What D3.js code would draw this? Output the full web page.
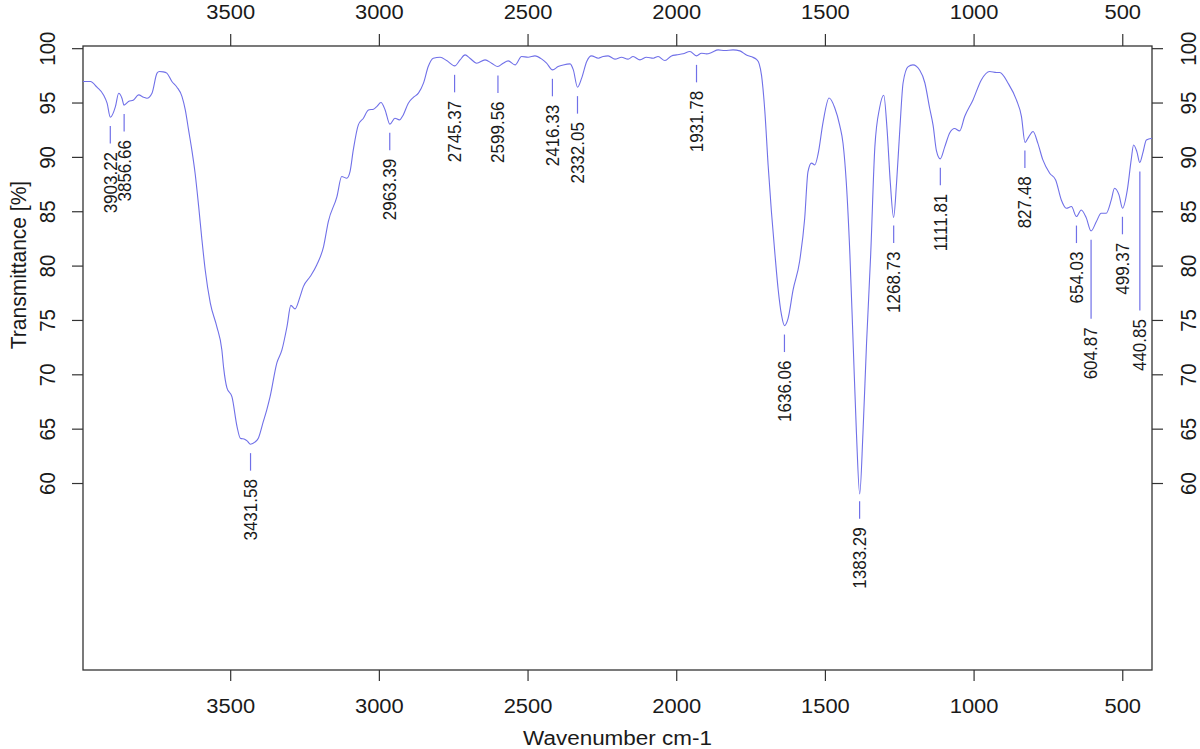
<!DOCTYPE html>
<html>
<head>
<meta charset="utf-8">
<script src="https://cdn.jsdelivr.net/npm/d3@7"></script>
<style>
  body { margin: 0; background: #fff; }
  svg { display: block; font-family: "Liberation Sans", Arial, sans-serif; }
</style>
</head>
<body>
<div id="chart"></div>
<script>
// IR spectrum (wavenumber in cm-1, descending)
var wavenumber = [
  3995, 3970, 3948, 3926, 3914, 3903, 3886, 3875, 3864, 3857,
  3842, 3825, 3808, 3791, 3780, 3763, 3746, 3738, 3725, 3713,
  3696, 3679, 3662, 3651, 3640, 3629, 3618, 3606, 3595, 3584,
  3567, 3545, 3528, 3522, 3511, 3494, 3477, 3466, 3450, 3443,
  3432, 3416, 3405, 3389, 3377, 3366, 3343, 3326, 3309, 3296,
  3282, 3265, 3254, 3231, 3209, 3186, 3170, 3141, 3125, 3108,
  3097, 3086, 3069, 3052, 3035, 3018, 3007, 2993, 2979, 2963,
  2946, 2931, 2918, 2901, 2884, 2867, 2850, 2834, 2817, 2794,
  2772, 2745, 2727, 2710, 2694, 2671, 2643, 2621, 2600, 2582,
  2565, 2542, 2520, 2498, 2475, 2452, 2436, 2416, 2397, 2380,
  2357, 2346, 2332, 2318, 2301, 2285, 2262, 2246, 2229, 2206,
  2184, 2162, 2145, 2122, 2100, 2077, 2061, 2038, 2016, 1999,
  1977, 1954, 1932, 1915, 1898, 1881, 1859, 1837, 1809, 1786,
  1764, 1746, 1730, 1721, 1713, 1702, 1691, 1680, 1668, 1657,
  1646, 1636, 1624, 1607, 1585, 1568, 1557, 1545, 1534, 1523,
  1506, 1486, 1467, 1450, 1439, 1428, 1416, 1405, 1394, 1383,
  1372, 1360, 1346, 1332, 1316, 1302, 1291, 1280, 1269, 1259,
  1248, 1237, 1220, 1204, 1181, 1164, 1148, 1136, 1125, 1112,
  1097, 1080, 1064, 1047, 1030, 1002, 974, 946, 923, 912,
  884, 856, 839, 827, 814, 800, 784, 767, 744, 724,
  705, 688, 671, 654, 638, 621, 605, 587, 571, 554,
  537, 526, 511, 499, 483, 470, 462, 451, 441, 431,
  419, 400
];
var transmittance = [
  96.93, 96.93, 96.41, 95.70, 94.94, 93.65, 94.63, 95.86, 95.40, 94.76,
  95.09, 95.24, 95.70, 95.49, 95.40, 95.86, 97.70, 97.85, 97.82, 97.70,
  96.93, 96.41, 95.55, 94.32, 92.48, 90.64, 88.50, 85.43, 82.36, 79.60,
  76.57, 74.39, 72.24, 70.59, 68.75, 67.92, 65.19, 64.12, 64.01, 63.87,
  63.57, 63.78, 64.15, 65.62, 66.73, 67.92, 71.05, 72.24, 74.39, 76.34,
  76.02, 77.15, 78.07, 78.99, 80.06, 81.75, 84.05, 86.35, 88.19, 88.04,
  88.65, 90.64, 92.94, 93.56, 94.32, 94.39, 94.63, 95.00, 94.32, 93.01,
  93.56, 93.40, 93.86, 94.94, 95.47, 95.86, 96.78, 98.31, 99.08, 99.17,
  98.86, 98.37, 98.92, 99.38, 99.08, 98.62, 98.92, 98.62, 98.31, 98.62,
  98.83, 98.46, 99.23, 99.17, 99.29, 98.99, 98.62, 98.00, 98.31, 98.46,
  98.56, 98.00, 96.41, 97.24, 98.77, 99.29, 99.08, 99.23, 99.29, 98.99,
  99.17, 98.99, 99.23, 98.92, 99.17, 99.08, 99.23, 98.86, 99.29, 99.38,
  99.48, 99.69, 99.29, 99.54, 99.48, 99.60, 99.84, 99.78, 99.84, 99.75,
  99.38, 99.20, 98.96, 98.56, 97.48, 94.20, 89.26, 85.00, 81.05, 77.76,
  75.46, 74.48, 75.13, 77.76, 80.40, 84.33, 88.62, 89.43, 89.26, 90.25,
  93.22, 95.41, 94.52, 92.88, 91.23, 87.62, 81.05, 72.83, 64.62, 59.00,
  64.62, 72.83, 81.05, 90.92, 94.52, 95.67, 92.55, 87.62, 84.43, 87.62,
  92.55, 96.82, 98.30, 98.46, 97.97, 96.82, 94.52, 92.88, 90.58, 89.82,
  90.92, 92.22, 92.61, 92.39, 93.71, 95.24, 97.08, 97.85, 97.76, 97.76,
  96.78, 95.24, 93.71, 91.33, 91.87, 92.33, 91.26, 89.72, 88.50, 87.88,
  86.04, 85.28, 85.43, 84.51, 85.12, 84.39, 83.19, 84.05, 84.82, 84.82,
  86.04, 87.12, 86.50, 85.28, 86.96, 89.72, 91.10, 90.49, 89.48, 90.34,
  91.56, 91.72
];

// labelled band positions
var peaks = [3903.22, 3856.66, 3431.58, 2963.39, 2745.37, 2599.56, 2416.33, 2332.05,
  1931.78, 1636.06, 1383.29, 1268.73, 1111.81, 827.48, 654.03, 604.87, 499.37, 440.85];
// transmittance where a long leader stops (null = short default leader)
var leaderEnd = [null, null, null, null, null, null, null, null,
  null, null, null, null, null, null, null, 75.10, null, 75.86];

var xTicks = [3500, 3000, 2500, 2000, 1500, 1000, 500];
var yTicks = [60, 65, 70, 75, 80, 85, 90, 95, 100];

var W = 1200, H = 749;
var frame = {left: 83, right: 1152, top: 46, bottom: 670};
var lineColor = "#7070e8";
var ink = "#1a1a1a";
var stretch = "scale(1.07,1)";   // the original figure is slightly wide

var svg = d3.select("#chart").append("svg")
    .attr("width", W)
    .attr("height", H);

var x = d3.scaleLinear().domain([3995, 400]).range([frame.left, frame.right]);
var y = d3.scaleLinear().domain([42.8, 100.2]).range([frame.bottom, frame.top]);

var spectrum = wavenumber.map(function (w, i) { return {w: w, t: transmittance[i]}; });

function valueAt(w) {
    for (var i = 0; i < wavenumber.length - 1; i++) {
        var a = wavenumber[i], b = wavenumber[i + 1];
        if (w <= a && w >= b) {
            var f = (a - w) / (a - b);
            return transmittance[i] + f * (transmittance[i + 1] - transmittance[i]);
        }
    }
    return transmittance[transmittance.length - 1];
}

function styleAxis(g, size) {
    g.attr("font-family", null).attr("font-size", size);
    g.select(".domain").remove();
    g.selectAll(".tick line").attr("stroke", "#333").attr("stroke-width", 1.2);
    g.selectAll(".tick text").attr("fill", ink);
}

// bottom and top x axes
svg.append("g")
    .attr("transform", "translate(0," + frame.bottom + ")")
    .call(d3.axisBottom(x).tickValues(xTicks).tickSize(11).tickPadding(17).tickFormat(d3.format("d")))
    .call(styleAxis, "20.5px")
    .selectAll(".tick text").attr("transform", stretch);

svg.append("g")
    .attr("transform", "translate(0," + frame.top + ")")
    .call(d3.axisTop(x).tickValues(xTicks).tickSize(12).tickPadding(15.5).tickFormat(d3.format("d")))
    .call(styleAxis, "20.5px")
    .selectAll(".tick text").attr("transform", stretch);

// left and right y axes, labels parallel to axis
svg.append("g")
    .attr("transform", "translate(" + frame.left + ",0)")
    .call(d3.axisLeft(y).tickValues(yTicks).tickSize(11).tickFormat(d3.format("d")))
    .call(styleAxis, "20.5px")
    .selectAll(".tick text")
    .attr("transform", "translate(-36,0) " + stretch + " rotate(-90)")
    .attr("x", 0).attr("y", 0).attr("dy", "0.35em")
    .attr("text-anchor", "middle");

svg.append("g")
    .attr("transform", "translate(" + frame.right + ",0)")
    .call(d3.axisRight(y).tickValues(yTicks).tickSize(11).tickFormat(d3.format("d")))
    .call(styleAxis, "20.5px")
    .selectAll(".tick text")
    .attr("transform", "translate(36,0) " + stretch + " rotate(-90)")
    .attr("x", 0).attr("y", 0).attr("dy", "0.35em")
    .attr("text-anchor", "middle");

// plot box
svg.append("rect")
    .attr("x", frame.left).attr("y", frame.top)
    .attr("width", frame.right - frame.left)
    .attr("height", frame.bottom - frame.top)
    .attr("fill", "none")
    .attr("stroke", "#333")
    .attr("stroke-width", 1.3);

// spectrum
var line = d3.line()
    .curve(d3.curveMonotoneX)
    .x(function (d) { return x(d.w); })
    .y(function (d) { return y(d.t); });

svg.append("path")
    .datum(spectrum)
    .attr("fill", "none")
    .attr("stroke", lineColor)
    .attr("stroke-width", 1.1)
    .attr("d", line);

// peak annotations
var ann = svg.selectAll(".peak")
    .data(peaks.map(function (p, i) {
        var py = y(valueAt(p));
        var end = leaderEnd[i] == null ? py + 26.5 : y(leaderEnd[i]);
        return {w: p, px: x(p), y1: py + 9, y2: end};
    }))
    .enter().append("g")
    .attr("class", "peak");

ann.append("line")
    .attr("x1", function (d) { return d.px; })
    .attr("x2", function (d) { return d.px; })
    .attr("y1", function (d) { return d.y1; })
    .attr("y2", function (d) { return d.y2; })
    .attr("stroke", lineColor)
    .attr("stroke-width", 1.2);

ann.append("text")
    .attr("transform", function (d) {
        return "translate(" + d.px + "," + (d.y2 + 8.5) + ") " + stretch + " rotate(-90)";
    })
    .attr("text-anchor", "end")
    .attr("dy", "0.35em")
    .attr("fill", ink)
    .style("font-size", "17px")
    .text(function (d) { return d.w.toFixed(2); });

// axis titles
svg.append("text")
    .attr("transform", "translate(" + (frame.left + frame.right) / 2 + ",745) " + stretch)
    .attr("text-anchor", "middle")
    .attr("fill", ink)
    .style("font-size", "21px")
    .text("Wavenumber cm-1");

svg.append("text")
    .attr("transform", "translate(18,265) " + stretch + " rotate(-90)")
    .attr("text-anchor", "middle")
    .attr("dy", "0.35em")
    .attr("fill", ink)
    .style("font-size", "21px")
    .text("Transmittance [%]");
</script>
</body>
</html>
